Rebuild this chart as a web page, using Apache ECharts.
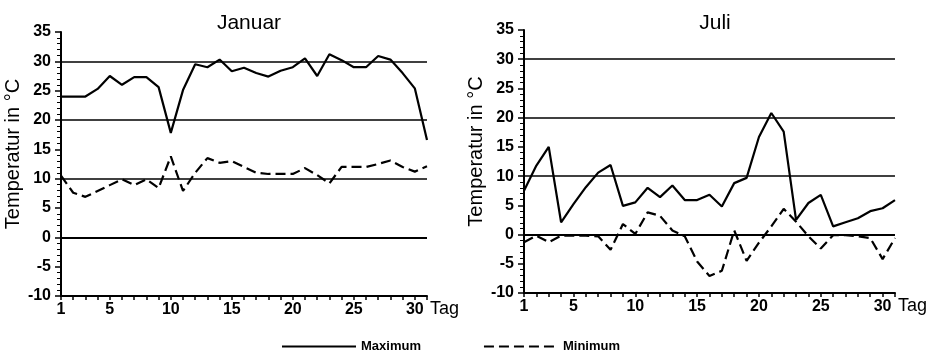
<!DOCTYPE html>
<html>
<head>
<meta charset="utf-8">
<script src="https://cdn.jsdelivr.net/npm/echarts@6/dist/echarts.min.js"></script>
<style>
  html, body { margin: 0; padding: 0; background: #fff; }
  #chart { width: 930px; height: 350px; }
</style>
</head>
<body>
<div id="chart"></div>
<script>
// Tage des Monats
const days = [1, 2, 3, 4, 5, 6, 7, 8, 9, 10, 11, 12, 13, 14, 15, 16,
              17, 18, 19, 20, 21, 22, 23, 24, 25, 26, 27, 28, 29, 30, 31];
const dayLabels = [1, 5, 10, 15, 20, 25, 30];
const gridValues = [0, 10, 20, 30];

// Januar: Tageshöchst- und Tiefstwerte (°C)
const janMax = [24, 24, 24, 25.3, 27.5, 26.0, 27.3, 27.3, 25.6, 17.8,
                25.1, 29.5, 29.0, 30.3, 28.3, 28.9, 28.0, 27.4, 28.4, 29.0,
                30.5, 27.5, 31.2, 30.2, 29.0, 29.0, 30.9, 30.3, 28.0, 25.4, 16.6];
const janMin = [10.5, 7.6, 6.9, 7.9, 8.9, 9.9, 8.9, 9.9, 8.4, 13.8,
                7.9, 11.0, 13.5, 12.7, 13.0, 12.0, 11.0, 10.8, 10.8, 10.8,
                11.8, 10.6, 9.2, 12.0, 12.0, 12.0, 12.5, 13.1, 12.0, 11.2, 12.1];

// Juli: Tageshöchst- und Tiefstwerte (°C)
const julMax = [7.5, 11.8, 15.0, 2.1, 5.2, 8.1, 10.6, 11.9, 4.9, 5.5,
                8.0, 6.4, 8.4, 5.9, 5.9, 6.8, 4.8, 8.8, 9.7, 16.7,
                20.8, 17.6, 2.5, 5.4, 6.8, 1.4, 2.1, 2.8, 4.0, 4.5, 5.9];
const julMin = [-1.3, -0.2, -1.3, -0.2, -0.2, -0.2, -0.3, -2.6, 1.8, 0.1,
                3.8, 3.2, 0.7, -0.3, -4.6, -7.1, -6.2, 0.7, -4.5, -1.4,
                1.4, 4.4, 2.2, -0.3, -2.4, -0.1, -0.1, -0.3, -0.6, -4.2, -0.6];

const pairs = vals => days.map((d, i) => [d, vals[i]]);

const FONT = '"Liberation Sans", Arial, Helvetica, sans-serif';

function xAxisFor(gridIndex) {
  return {
    gridIndex,
    type: 'value',
    min: 1,
    max: 31,
    interval: 1,
    name: 'Tag',
    nameLocation: 'end',
    nameGap: 3,
    nameTextStyle: { fontSize: 18, color: '#000', verticalAlign: 'top', padding: [4, 0, 0, 0] },
    axisLine: { onZero: false, lineStyle: { color: '#000', width: 2 } },
    axisTick: { length: 4, lineStyle: { color: '#000', width: 1.5 } },
    axisLabel: {
      margin: 6,
      fontSize: 16,
      fontWeight: 'bold',
      color: '#000',
      formatter: v => (dayLabels.includes(v) ? String(v) : '')
    },
    splitLine: { show: false }
  };
}

function yAxisFor(gridIndex) {
  return {
    gridIndex,
    type: 'value',
    min: -10,
    max: 35,
    interval: 5,
    name: 'Temperatur in °C',
    nameLocation: 'middle',
    nameGap: 38,
    nameTextStyle: { fontSize: 20, color: '#000', padding: [0, 0, 0, 20] },
    axisLine: { show: true, lineStyle: { color: '#000', width: 2 } },
    axisTick: { show: true, length: 6, lineStyle: { color: '#000', width: 1.5 } },
    minorTick: { show: true, splitNumber: 5, length: 4, lineStyle: { color: '#000', width: 1 } },
    axisLabel: { margin: 10, fontSize: 16, fontWeight: 'bold', color: '#000' },
    splitLine: { show: false }
  };
}

// waagerechte Bezugslinien bei 0, 10, 20 und 30 °C
const refLines = {
  silent: true,
  symbol: ['none', 'none'],
  label: { show: false },
  lineStyle: { color: '#000', type: 'solid', width: 1.5 },
  emphasis: { disabled: true },
  data: gridValues.map(v => ({ yAxis: v, lineStyle: { width: v === 0 ? 2.2 : 1.5 } }))
};

function maxSeries(idx, vals) {
  return {
    name: 'Maximum',
    type: 'line',
    xAxisIndex: idx,
    yAxisIndex: idx,
    data: pairs(vals),
    symbol: 'none',
    lineStyle: { color: '#000', width: 2.2, type: 'solid' },
    itemStyle: { color: '#000' },
    markLine: refLines
  };
}

function minSeries(idx, vals) {
  return {
    name: 'Minimum',
    type: 'line',
    xAxisIndex: idx,
    yAxisIndex: idx,
    data: pairs(vals),
    symbol: 'none',
    lineStyle: { color: '#000', width: 2.2, type: [10, 5] },
    itemStyle: { color: '#000' }
  };
}

const chart = echarts.init(document.getElementById('chart'), null, { renderer: 'canvas' });
chart.setOption({
  animation: false,
  backgroundColor: '#fff',
  textStyle: { fontFamily: FONT, color: '#000' },
  title: [
    { text: 'Januar', left: 244, top: 8, textAlign: 'center',
      textStyle: { fontSize: 21, fontWeight: 'normal', color: '#000', fontFamily: FONT } },
    { text: 'Juli', left: 710, top: 8, textAlign: 'center',
      textStyle: { fontSize: 21, fontWeight: 'normal', color: '#000', fontFamily: FONT } }
  ],
  legend: {
    data: ['Maximum', 'Minimum'],
    left: 276,
    top: 335,
    itemWidth: 74,
    itemHeight: 14,
    itemGap: 62,
    itemStyle: { opacity: 0 },
    textStyle: { fontSize: 13, fontWeight: 'bold', color: '#000', fontFamily: FONT }
  },
  grid: [
    { left: 61, right: 503, top: 32, bottom: 54 },
    { left: 524, right: 34, top: 30, bottom: 57 }
  ],
  xAxis: [xAxisFor(0), xAxisFor(1)],
  yAxis: [yAxisFor(0), yAxisFor(1)],
  series: [
    maxSeries(0, janMax),
    minSeries(0, janMin),
    maxSeries(1, julMax),
    minSeries(1, julMin)
  ]
});
</script>
</body>
</html>
